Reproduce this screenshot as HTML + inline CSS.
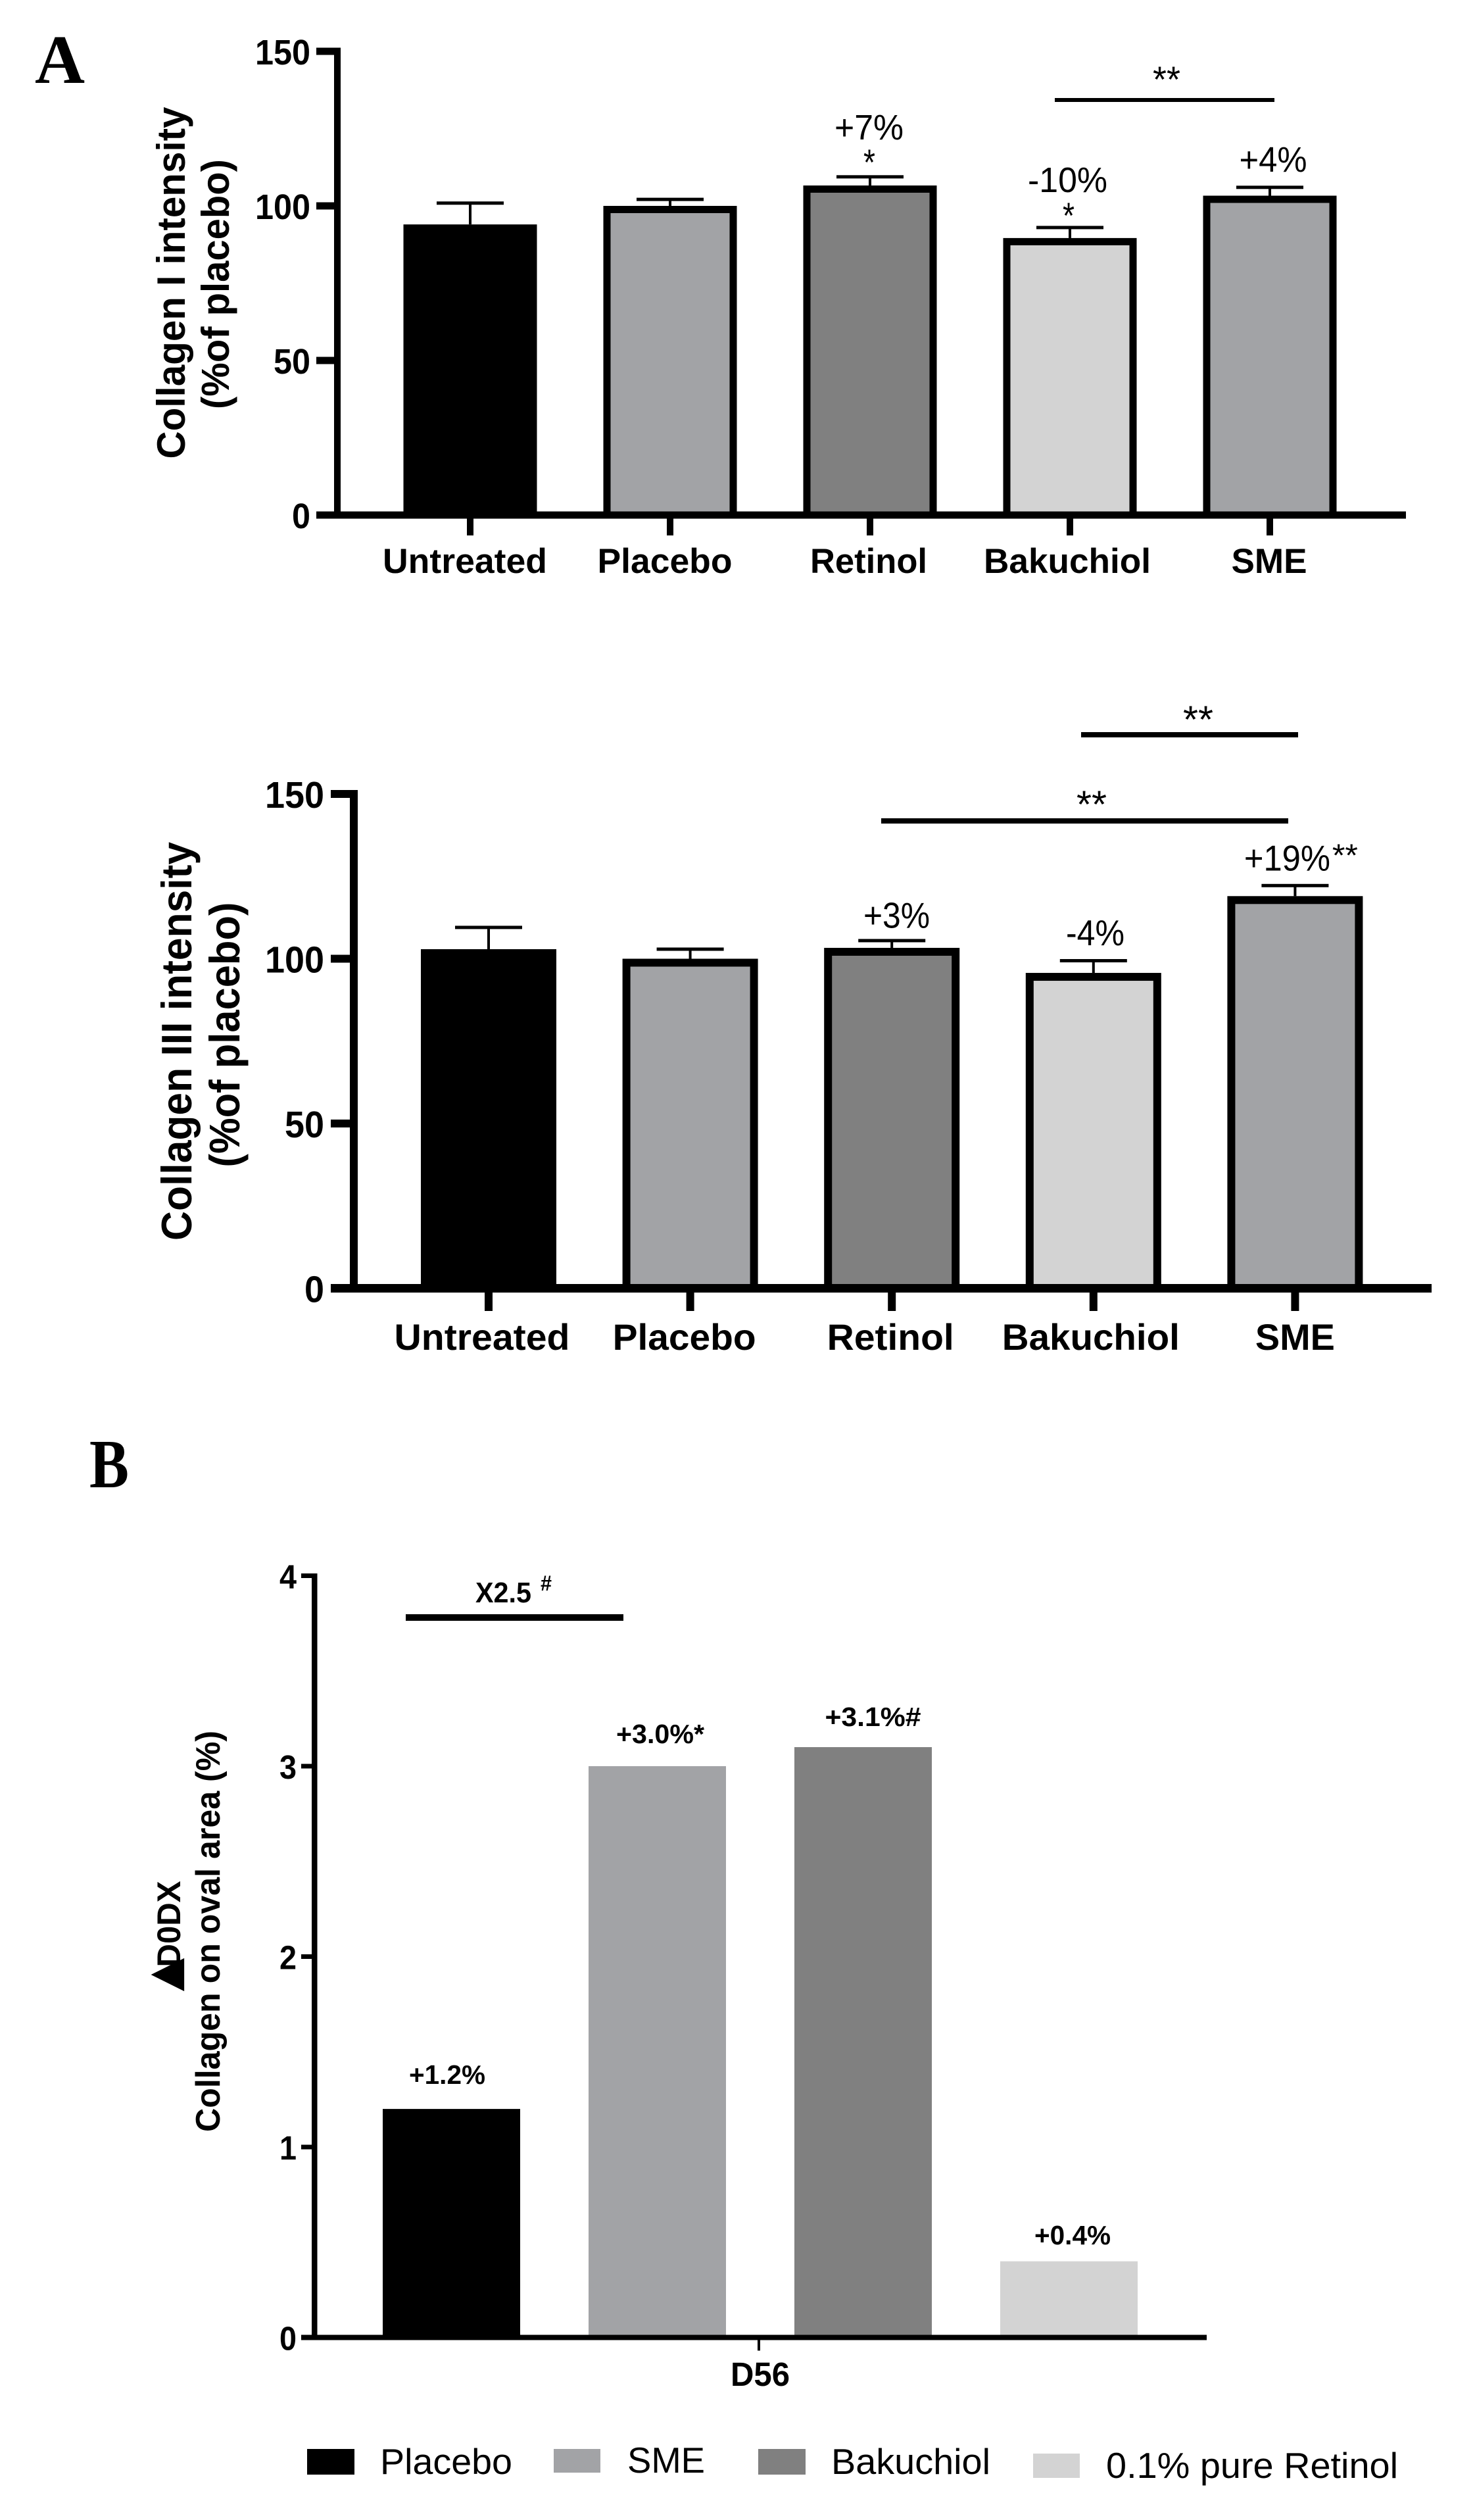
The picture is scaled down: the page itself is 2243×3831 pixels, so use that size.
<!DOCTYPE html>
<html lang="en">
<head>
<meta charset="utf-8">
<title>Collagen intensity charts</title>
<style>
  html, body { margin: 0; padding: 0; background: #ffffff; }
  svg { display: block; }
  text { font-family: "Liberation Sans", Arial, sans-serif; fill: #000; }
  .serif { font-family: "Liberation Serif", serif; font-weight: bold; }
  .b { font-weight: bold; }
</style>
</head>
<body>
<svg id="figure" xmlns="http://www.w3.org/2000/svg" width="2243" height="3831" viewBox="0 0 2243 3831">
  <rect x="0" y="0" width="2243" height="3831" fill="#ffffff"/>

  <text class="serif" x="53" y="126" font-size="105" textLength="76" lengthAdjust="spacingAndGlyphs">A</text>
  <text class="serif" x="136" y="2261" font-size="105" textLength="60" lengthAdjust="spacingAndGlyphs">B</text>

  <g id="chart-col1">
    <text class="b" transform="translate(281 430) rotate(-90)" text-anchor="middle" font-size="60" textLength="535" lengthAdjust="spacingAndGlyphs">Collagen I intensity</text>
    <text class="b" transform="translate(348 432) rotate(-90)" text-anchor="middle" font-size="59" textLength="380" lengthAdjust="spacingAndGlyphs">(%of placebo)</text>
    <rect x="1604" y="149" width="334" height="6" fill="#000"/>
    <text x="1774" y="140" text-anchor="middle" font-size="56" textLength="42" lengthAdjust="spacingAndGlyphs">**</text>
  </g>

  <g id="chart-col3">
    <text class="b" transform="translate(291 1583) rotate(-90)" text-anchor="middle" font-size="65" textLength="606" lengthAdjust="spacingAndGlyphs">Collagen III intensity</text>
    <text class="b" transform="translate(364 1573) rotate(-90)" text-anchor="middle" font-size="65" textLength="403" lengthAdjust="spacingAndGlyphs">(%of placebo)</text>
    <rect x="1644" y="1113" width="330" height="8" fill="#000"/>
    <text x="1822" y="1114" text-anchor="middle" font-size="58" textLength="46" lengthAdjust="spacingAndGlyphs">**</text>
    <rect x="1340" y="1244" width="619" height="8" fill="#000"/>
    <text x="1660" y="1243" text-anchor="middle" font-size="58" textLength="46" lengthAdjust="spacingAndGlyphs">**</text>
  </g>

  <g id="chart-d56">
    <text style="font-family:'DejaVu Sans',sans-serif" transform="translate(272 3002) rotate(-90)" text-anchor="middle" font-size="66">&#9650;</text>
    <text class="b" transform="translate(274 2925) rotate(-90)" text-anchor="middle" font-size="50" textLength="131" lengthAdjust="spacingAndGlyphs">D0DX</text>
    <text class="b" transform="translate(334 2936) rotate(-90)" text-anchor="middle" font-size="52" textLength="610" lengthAdjust="spacingAndGlyphs">Collagen on oval area (%)</text>
    <rect x="617" y="2454" width="331" height="10" fill="#000"/>
    <text class="b" x="723" y="2436" font-size="44" textLength="85" lengthAdjust="spacingAndGlyphs">X2.5</text>
    <text class="b" x="822" y="2418" font-size="32" textLength="17" lengthAdjust="spacingAndGlyphs">#</text>
    <text class="b" x="1156" y="3627" text-anchor="middle" font-size="51" textLength="90" lengthAdjust="spacingAndGlyphs">D56</text>
  </g>

  <g id="legend">
    <rect x="467" y="3723" width="72" height="39" fill="#000000"/>
    <text x="578" y="3761" font-size="55" textLength="201" lengthAdjust="spacingAndGlyphs">Placebo</text>
    <rect x="842" y="3723" width="71" height="36" fill="#a2a3a6"/>
    <text x="954" y="3759" font-size="55" textLength="118" lengthAdjust="spacingAndGlyphs">SME</text>
    <rect x="1153" y="3723" width="72" height="39" fill="#808080"/>
    <text x="1264" y="3761" font-size="55" textLength="242" lengthAdjust="spacingAndGlyphs">Bakuchiol</text>
    <rect x="1571" y="3730" width="71" height="37" fill="#d3d3d3"/>
    <text x="1682" y="3767" font-size="55" textLength="444" lengthAdjust="spacingAndGlyphs">0.1% pure Retinol</text>
  </g>
</svg>

<script>
// ---- chart data ----
const categoriesCol = ['Untreated', 'Placebo', 'Retinol', 'Bakuchiol', 'SME'];
const col1Values = [94, 100, 106.6, 89.6, 103.3];
const col1ErrorTops = [100.9, 102.1, 109.4, 93, 106];
const col1Ticks = [0, 50, 100, 150];
const col3Values = [102.9, 100, 103.3, 95.7, 119];
const col3ErrorTops = [109.5, 102.9, 105.5, 99.4, 122.2];
const col3Ticks = [0, 50, 100, 150];
const barFillsCol = ['#000000', '#a2a3a6', '#808080', '#d3d3d3', '#a2a3a6'];

const categoriesD56 = ['Placebo', 'SME', 'Bakuchiol', 'Retinol'];
const d56Values = [1.2, 3.0, 3.1, 0.4];
const d56Ticks = [0, 1, 2, 3, 4];
const d56Printed = ['+1.2%', '+3.0%*', '+3.1%#', '+0.4%'];
const barFillsD56 = ['#000000', '#a2a3a6', '#808080', '#d3d3d3'];

// ---- helpers ----
const NS = 'http://www.w3.org/2000/svg';
function make(parent, tag, props, content) {
  const n = document.createElementNS(NS, tag);
  for (const k in props) n.setAttribute(k, props[k]);
  if (content !== undefined) n.textContent = content;
  parent.appendChild(n);
  return n;
}
function slug(s) { return String(s).toLowerCase().replace(/[^a-z0-9]+/g, '-').replace(/^-|-$/g, ''); }

function drawAxes(g, o, ticks) {
  const axisY = make(g, 'rect', { x: o.axisX, y: o.y(ticks[ticks.length - 1]) - o.tickT / 2, width: o.axisW, height: o.y(ticks[0]) - o.y(ticks[ticks.length - 1]) + o.tickT / 2, fill: '#000' });
  
  
  const axisX = make(g, 'rect', { x: o.tickLeft, y: o.y(0) - o.baseT / 2, width: o.axisRight - o.tickLeft, height: o.baseT, fill: '#000' });
  
  
  ticks.forEach(function (t) {
    const mark = make(g, 'rect', { x: o.tickLeft, y: o.y(t) - o.tickT / 2, width: o.axisX - o.tickLeft, height: o.tickT, fill: '#000' });
    
    
    const label = make(g, 'text', { x: o.labelRight, y: o.y(t) + o.labelDrop, 'text-anchor': 'end', 'font-size': o.labelSize, 'font-weight': 'bold', textLength: String(t).length * o.digitW, lengthAdjust: 'spacingAndGlyphs' }, String(t));
    
    
  });
}

function drawColumnChart(g, o, categories, values, errorTops, ticks) {
  categories.forEach(function (cat, i) {
    const cx = o.x(i);
    const top = o.y(values[i]);
    const bar = make(g, 'rect', { x: cx - o.barW / 2 + o.stroke / 2, y: top + o.stroke / 2, width: o.barW - o.stroke, height: o.y(0) - top - o.stroke / 2, fill: barFillsCol[i], stroke: '#000', 'stroke-width': o.stroke });
    
    
    const stem = make(g, 'rect', { x: cx - 2, y: o.y(errorTops[i]), width: 4, height: top - o.y(errorTops[i]), fill: '#000' });
    
    
    const cap = make(g, 'rect', { x: cx - o.capW / 2, y: o.y(errorTops[i]) - 2.5, width: o.capW, height: 5, fill: '#000' });
    
    
    const tick = make(g, 'rect', { x: cx - o.xTickW / 2, y: o.y(0), width: o.xTickW, height: o.xTickEnd - o.y(0), fill: '#000' });
    
    
    const label = make(g, 'text', { x: cx + o.catDx[i], y: o.catBaseline, 'text-anchor': 'middle', 'font-size': o.catSize, 'font-weight': 'bold', textLength: o.catLen[i], lengthAdjust: 'spacingAndGlyphs' }, cat);
    
    
  });
  drawAxes(g, o, ticks);
}

function annotate(g, o, anchorValues, i, str, dx, gap, len, size, weight) {
  const t = make(g, 'text', { x: o.x(i) + dx, y: o.y(anchorValues[i]) - gap, 'text-anchor': 'middle', 'font-size': size, 'font-weight': weight || 'normal', textLength: len, lengthAdjust: 'spacingAndGlyphs' }, str);
  
  
}

// ---- collagen I ----
const col1Layout = {
  x: function (i) { return 715 + 304 * i; },
  y: function (v) { return 783 - 4.7 * v; },
  barW: 203, stroke: 11, capW: 102, xTickW: 10, xTickEnd: 814,
  axisX: 508, axisW: 10, axisRight: 2138, tickLeft: 481, tickT: 11, baseT: 11,
  labelRight: 472, labelDrop: 20, labelSize: 54, digitW: 28,
  catDx: [-8, -8, -2, -4, -1], catLen: [250, 205, 178, 254, 115], catBaseline: 871, catSize: 53
};
const col1Group = document.getElementById('chart-col1');
drawColumnChart(col1Group, col1Layout, categoriesCol, col1Values, col1ErrorTops, col1Ticks);
annotate(col1Group, col1Layout, col1ErrorTops, 2, '+7%', -1.5, 57, 105, 54);
annotate(col1Group, col1Layout, col1ErrorTops, 2, '*', -1, 3, 18, 56);
annotate(col1Group, col1Layout, col1ErrorTops, 3, '-10%', -3.5, 54, 121, 54);
annotate(col1Group, col1Layout, col1ErrorTops, 3, '*', -2, -1, 18, 56);
annotate(col1Group, col1Layout, col1ErrorTops, 4, '+4%', 5, 24, 103, 54);

// ---- collagen III ----
const col3Layout = {
  x: function (i) { return 743 + 306.6 * i; },
  y: function (v) { return 1958.5 - 5.01 * v; },
  barW: 206, stroke: 12, capW: 102, xTickW: 12, xTickEnd: 1993,
  axisX: 532, axisW: 12, axisRight: 2177, tickLeft: 503, tickT: 12, baseT: 13,
  labelRight: 493, labelDrop: 21, labelSize: 57, digitW: 30,
  catDx: [-10, -9, -2, -4, 0], catLen: [267, 218, 193, 270, 121], catBaseline: 2052, catSize: 56
};
const col3Group = document.getElementById('chart-col3');
drawColumnChart(col3Group, col3Layout, categoriesCol, col3Values, col3ErrorTops, col3Ticks);
annotate(col3Group, col3Layout, col3ErrorTops, 2, '+3%', 7.3, 19.5, 101, 55);
annotate(col3Group, col3Layout, col3ErrorTops, 3, '-4%', 2.7, 23.5, 89, 55);
annotate(col3Group, col3Layout, col3ErrorTops, 4, '+19%', -12, 23, 131, 55);
annotate(col3Group, col3Layout, col3ErrorTops, 4, '**', 76, 30, 39, 48);

// ---- D56 ----
const d56Layout = {
  x: function (i) { return 686.5 + 313 * i; },
  y: function (v) { return 3553.5 - 289.5 * v; },
  barW: 209,
  axisX: 474, axisW: 8.5, axisRight: 1835, tickLeft: 458, tickT: 7, baseT: 8,
  labelRight: 451, labelDrop: 19, labelSize: 51, digitW: 26
};
const d56Group = document.getElementById('chart-d56');
categoriesD56.forEach(function (cat, i) {
  const cx = d56Layout.x(i);
  const top = d56Layout.y(d56Values[i]);
  const bar = make(d56Group, 'rect', { x: cx - d56Layout.barW / 2, y: top, width: d56Layout.barW, height: d56Layout.y(0) - top, fill: barFillsD56[i] });
  
  
});
drawAxes(d56Group, d56Layout, d56Ticks);
const d56XTick = make(d56Group, 'rect', { x: 1152, y: d56Layout.y(0), width: 4, height: 20, fill: '#000' });


annotate(d56Group, d56Layout, d56Values, 0, d56Printed[0], -6.5, 38, 116, 41, 'bold');
annotate(d56Group, d56Layout, d56Values, 1, d56Printed[1], 4.5, 35, 134, 41, 'bold');
annotate(d56Group, d56Layout, d56Values, 2, d56Printed[2], 15, 32, 146, 41, 'bold');
annotate(d56Group, d56Layout, d56Values, 3, d56Printed[3], 5.5, 25.7, 116, 41, 'bold');
</script>
</body>
</html>
